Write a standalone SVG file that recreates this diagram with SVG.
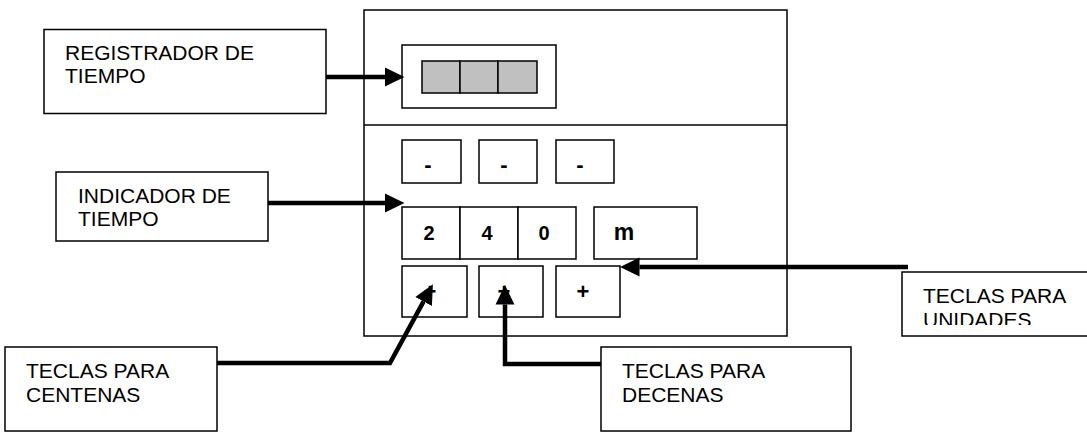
<svg xmlns="http://www.w3.org/2000/svg" width="1087" height="432" viewBox="0 0 1087 432">
<style>
.box{fill:#fff;stroke:#000;stroke-width:1.5}
.cell{fill:#c0c0c0;stroke:#000;stroke-width:1.5}
.lbl{font-family:"Liberation Sans",Arial,sans-serif;font-size:21px;fill:#000}
.key{font-family:"Liberation Sans",Arial,sans-serif;font-weight:bold;font-size:20px;fill:#000;text-anchor:middle}
.sym{font-size:22px}
.conn{fill:none;stroke:#000;stroke-width:4.5;stroke-linejoin:miter}
</style>
<defs>
<marker id="ah" markerUnits="userSpaceOnUse" markerWidth="20" markerHeight="20" viewBox="0 -9 18 18" refX="0" refY="0" orient="auto">
<path d="M0,-8.5 L17.5,0 L0,8.5 Z" fill="#000"/>
</marker>
<clipPath id="clipU"><rect x="902" y="272" width="185" height="53"/></clipPath>
</defs>

<g id="device">
<rect class="box" x="364" y="10" width="423" height="326"/>
<line x1="364" y1="125" x2="787" y2="125" stroke="#000" stroke-width="1.5"/>
</g>

<g id="display">
<rect class="box" x="402" y="45" width="154" height="63"/>
<rect class="cell" x="422" y="61" width="38" height="32"/>
<rect class="cell" x="460" y="61" width="38" height="32"/>
<rect class="cell" x="498" y="61" width="39" height="32"/>
</g>

<g id="minus-keys">
<rect class="box" x="402" y="140" width="59" height="43"/>
<text class="key sym" x="428" y="172">-</text>
<rect class="box" x="479" y="140" width="58" height="43"/>
<text class="key sym" x="504" y="172">-</text>
<rect class="box" x="556" y="140" width="58" height="43"/>
<text class="key sym" x="580" y="172">-</text>
</g>

<g id="time-indicator">
<rect class="box" x="402" y="207" width="58" height="52"/>
<text class="key" x="429" y="240">2</text>
<rect class="box" x="460" y="207" width="58" height="52"/>
<text class="key" x="487" y="240">4</text>
<rect class="box" x="518" y="207" width="58" height="52"/>
<text class="key" x="544" y="240">0</text>
<rect class="box" x="594" y="207" width="103" height="52"/>
<text class="key" x="624" y="240" style="font-size:23px">m</text>
</g>

<g id="plus-keys">
<rect class="box" x="402" y="266" width="65" height="51"/>
<text class="key sym" x="430" y="299">+</text>
<rect class="box" x="479" y="266" width="64" height="51"/>
<text class="key sym" x="504" y="299">+</text>
<rect class="box" x="556" y="266" width="64" height="51"/>
<text class="key sym" x="583" y="299">+</text>
</g>

<g id="registrador">
<rect class="box" x="44" y="29.5" width="282" height="84"/>
<text class="lbl" x="65" y="60">REGISTRADOR DE</text>
<text class="lbl" x="65" y="83">TIEMPO</text>
</g>

<g id="indicador">
<rect class="box" x="56" y="172" width="212" height="69"/>
<text class="lbl" x="78" y="203">INDICADOR DE</text>
<text class="lbl" x="78" y="226">TIEMPO</text>
</g>

<g id="centenas">
<rect class="box" x="5" y="347" width="212" height="84"/>
<text class="lbl" x="26" y="378">TECLAS PARA</text>
<text class="lbl" x="26" y="402">CENTENAS</text>
</g>

<g id="decenas">
<rect class="box" x="601" y="347" width="250" height="84"/>
<text class="lbl" x="622" y="378">TECLAS PARA</text>
<text class="lbl" x="622" y="402">DECENAS</text>
</g>

<g id="unidades">
<rect class="box" x="902" y="272" width="200" height="64"/>
<g clip-path="url(#clipU)">
<text class="lbl" x="923" y="303">TECLAS PARA</text>
<text class="lbl" x="923" y="327">UNIDADES</text>
</g>
</g>

<g id="connectors">
<path class="conn" d="M326,77 L385,77" marker-end="url(#ah)"/>
<path class="conn" d="M268,203 L385,203" marker-end="url(#ah)"/>
<path class="conn" d="M908,267 L639.5,267" marker-end="url(#ah)"/>
<path class="conn" d="M601,364 L505,364 L505,304.5" marker-end="url(#ah)"/>
<path class="conn" d="M217,363 L390,363 L423.6,301.4" marker-end="url(#ah)"/>
</g>
</svg>
